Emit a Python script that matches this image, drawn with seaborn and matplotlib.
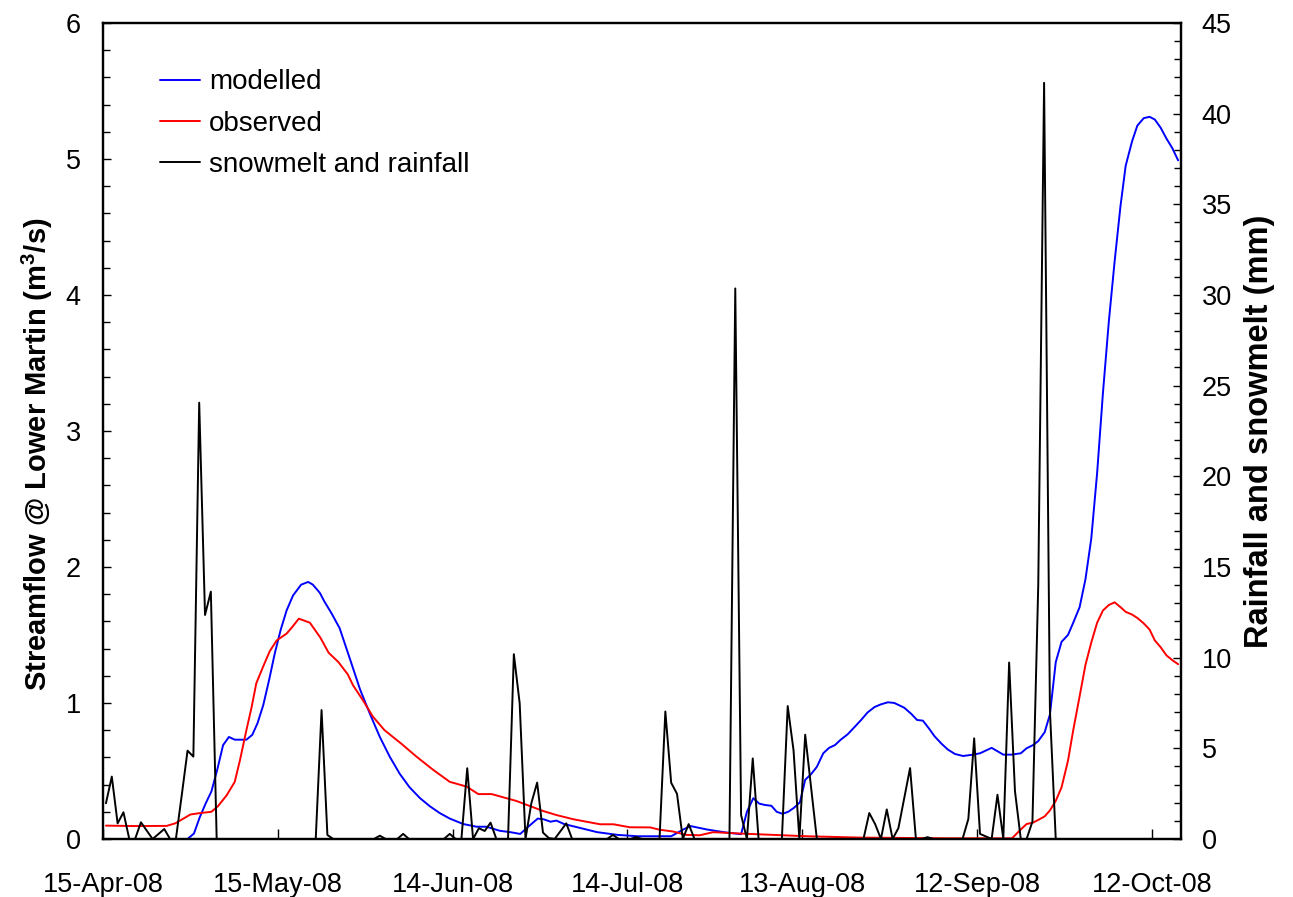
import numpy as np
import pandas as pd
import matplotlib
matplotlib.use("Agg")
import matplotlib.pyplot as plt
import matplotlib.dates as mdates
from matplotlib.ticker import MultipleLocator
import seaborn as sns

# ---------------- data ----------------
start_date = "2008-04-15"

# modelled streamflow (m3/s): day offset from 15-Apr-08, value
model_day = [0.5, 14.5, 15.6, 16.6, 17.6, 18.6, 19.6, 20.6, 21.6, 22.6, 24.6, 25.6, 26.5, 27.5,
             28.5, 29.5, 30.5, 31.5, 32.6, 34.0, 35.2, 36.0, 37.2, 38.0, 39.2, 40.6, 42.4, 44.1,
             45.8, 47.5, 49.2, 50.9, 52.6, 54.4, 56.1, 57.8, 59.5, 61.8, 64.1, 65.8, 68.1, 69.9,
             71.6, 72.7, 74.6, 75.6, 76.8, 77.8, 79.1, 81.4, 84.8, 88.3, 91.7, 97.5, 99.6, 100.8,
             103.6, 106.5, 109.5, 110.5, 111.6, 112.6, 113.6, 114.7, 115.6, 116.6, 117.6, 118.6,
             119.6, 120.5, 121.5, 122.5, 123.6, 124.6, 125.6, 126.6, 127.8, 128.9, 130.1, 131.2,
             132.4, 133.5, 134.7, 135.8, 137.5, 138.7, 139.7, 140.7, 141.7, 142.7, 143.9, 145.0,
             146.2, 147.6, 149.3, 150.5, 152.5, 154.5, 155.9, 157.5, 158.5, 159.6, 160.5, 161.6,
             162.5, 163.5, 164.5, 165.6, 166.5, 167.6, 168.6, 169.6, 170.6, 171.6, 172.6, 173.6,
             174.6, 175.5, 176.6, 177.5, 178.6, 179.6, 180.5, 181.5, 182.5, 183.5, 184.5]
modelled = [0.0, 0.0, 0.04, 0.16, 0.26, 0.35, 0.51, 0.69, 0.75, 0.73, 0.73, 0.765, 0.85, 0.985,
            1.17, 1.37, 1.54, 1.68, 1.79, 1.87, 1.89, 1.87, 1.81, 1.745, 1.66, 1.55, 1.32, 1.10,
            0.92, 0.75, 0.605, 0.48, 0.38, 0.30, 0.24, 0.19, 0.15, 0.11, 0.09, 0.09, 0.06, 0.05,
            0.037, 0.08, 0.15, 0.145, 0.127, 0.135, 0.11, 0.086, 0.05, 0.03, 0.02, 0.02, 0.07, 0.095,
            0.07, 0.05, 0.035, 0.20, 0.30, 0.26, 0.25, 0.244, 0.20, 0.185, 0.20, 0.23,
            0.27, 0.435, 0.476, 0.53, 0.63, 0.67, 0.69, 0.73, 0.77, 0.82, 0.875, 0.93,
            0.97, 0.99, 1.005, 1.0, 0.965, 0.92, 0.875, 0.87, 0.815, 0.755, 0.70, 0.657,
            0.625, 0.61, 0.62, 0.63, 0.67, 0.62, 0.62, 0.63, 0.667, 0.69, 0.72, 0.785,
            0.915, 1.30, 1.45, 1.50, 1.59, 1.705, 1.91, 2.21, 2.69, 3.28, 3.80, 4.245,
            4.65, 4.95, 5.13, 5.245, 5.30, 5.31, 5.29, 5.23, 5.15, 5.08, 4.99]

# observed streamflow (m3/s)
obs_day = [0.5, 5.2, 10.9, 12.4, 13.8, 15.0, 16.6, 18.6, 19.7, 21.2, 22.6, 23.5, 24.6, 25.5,
           26.3, 27.5, 28.6, 29.8, 31.5, 32.5, 33.6, 35.5, 37.3, 38.7, 40.4, 42.0, 42.9, 44.6,
           46.3, 48.3, 51.2, 53.8, 56.6, 59.5, 62.4, 64.4, 66.7, 69.2, 70.9, 73.2, 75.5, 77.8,
           80.7, 85.3, 87.6, 90.4, 93.9, 95.5, 97.8, 100.1, 102.4, 104.7, 109.3, 115.0, 120.8,
           130.0, 145.0, 156.0, 157.5, 158.5, 159.6, 160.5, 161.6, 162.5, 163.5, 164.5, 165.6,
           166.5, 167.6, 168.6, 169.6, 170.6, 171.6, 172.6, 173.6, 174.6, 175.5, 176.6, 177.5,
           178.6, 179.6, 180.5, 181.5, 182.5, 183.5, 184.5]
observed = [0.098, 0.095, 0.096, 0.115, 0.15, 0.18, 0.19, 0.20, 0.24, 0.32, 0.42, 0.58, 0.80, 0.97,
            1.145, 1.27, 1.38, 1.46, 1.51, 1.56, 1.62, 1.59, 1.48, 1.37, 1.30, 1.21, 1.13, 1.02,
            0.90, 0.80, 0.70, 0.605, 0.51, 0.42, 0.385, 0.33, 0.33, 0.30, 0.28, 0.243, 0.206, 0.176,
            0.145, 0.108, 0.108, 0.086, 0.085, 0.068, 0.055, 0.03, 0.027, 0.05, 0.04, 0.03, 0.02,
            0.01, 0.005, 0.005, 0.07, 0.11, 0.12, 0.14, 0.166, 0.21, 0.28, 0.38, 0.575,
            0.80, 1.05, 1.28, 1.445, 1.59, 1.68, 1.72, 1.74, 1.705, 1.67, 1.65, 1.625,
            1.585, 1.54, 1.46, 1.41, 1.35, 1.315, 1.285]

# daily snowmelt and rainfall (mm), 15-Apr-08 .. 16-Oct-08
rain_nonzero = {0: 1.97, 1: 3.44, 2: 0.86, 3: 1.47, 6: 0.92, 7: 0.46, 9: 0.27, 10: 0.55,
                13: 2.4, 14: 4.87, 15: 4.54, 16: 24.06, 17: 12.35, 18: 13.64, 37: 7.11, 38: 0.22,
                47: 0.18, 51: 0.28, 59: 0.28, 62: 3.9, 64: 0.59, 65: 0.44, 66: 0.9,
                70: 10.19, 71: 7.48, 73: 1.97, 74: 3.11, 75: 0.35, 76: 0.05, 78: 0.43, 79: 0.86,
                87: 0.22, 91: 0.1, 96: 7.03, 97: 3.1, 98: 2.49, 100: 0.82,
                108: 30.36, 109: 1.32, 111: 4.44, 117: 7.33, 118: 4.89, 120: 5.75, 121: 2.87,
                131: 1.43, 132: 0.82, 134: 1.63, 136: 0.6, 137: 2.25, 138: 3.91, 141: 0.1,
                148: 1.1, 149: 5.55, 150: 0.28, 151: 0.14, 153: 2.44, 155: 9.73, 156: 2.64,
                159: 0.96, 160: 14.04, 161: 41.7, 162: 7.09}
n_days = 185
rainfall = [rain_nonzero.get(d, 0.0) for d in range(n_days)]

tick_labels_dates = ["2008-04-15", "2008-05-15", "2008-06-14", "2008-07-14",
                     "2008-08-13", "2008-09-12", "2008-10-12"]

# ---------------- build frames ----------------
t0 = pd.Timestamp(start_date)
df_mod = pd.DataFrame({"date": t0 + pd.to_timedelta(model_day, unit="D"), "flow": modelled})
df_obs = pd.DataFrame({"date": t0 + pd.to_timedelta(obs_day, unit="D"), "flow": observed})
df_rain = pd.DataFrame({"date": t0 + pd.to_timedelta(np.arange(n_days) + 0.5, unit="D"),
                        "rain": rainfall})

# ---------------- style ----------------
sns.set_style("ticks")
plt.rcParams["font.family"] = ["Liberation Sans", "DejaVu Sans"]
plt.rcParams["mathtext.fontset"] = "custom"
plt.rcParams["mathtext.rm"] = "Liberation Sans"
plt.rcParams["mathtext.bf"] = "Liberation Sans:bold"
for k in ["text.color", "axes.labelcolor", "xtick.color", "ytick.color", "axes.edgecolor"]:
    plt.rcParams[k] = "black"

fig = plt.figure(figsize=(12.93, 8.97), dpi=100)
ax = fig.add_axes([0.0797, 0.0647, 0.8337, 0.9097])
ax2 = ax.twinx()

lw = 1.4
sns.lineplot(data=df_mod, x="date", y="flow", ax=ax, color="#0000ff", lw=lw,
             label="modelled", estimator=None, legend=False)
sns.lineplot(data=df_obs, x="date", y="flow", ax=ax, color="#ff0000", lw=lw,
             label="observed", estimator=None, legend=False)
sns.lineplot(data=df_rain, x="date", y="rain", ax=ax2, color="black", lw=lw,
             label="snowmelt and rainfall", estimator=None, legend=False)

ax.set_xlim(t0, t0 + pd.Timedelta(days=185))
ax.set_ylim(0, 6)
ax2.set_ylim(0, 45)

ax.set_xticks(pd.to_datetime(tick_labels_dates))
ax.xaxis.set_major_formatter(mdates.DateFormatter("%d-%b-%y"))
ax.yaxis.set_major_locator(MultipleLocator(1))
ax.yaxis.set_minor_locator(MultipleLocator(0.2))
ax2.yaxis.set_major_locator(MultipleLocator(5))
ax2.yaxis.set_minor_locator(MultipleLocator(1))

tick_fs = 19.5
ax.tick_params(axis="x", which="major", direction="in", length=7, width=1.0,
               labelsize=tick_fs, pad=24, top=False)
ax.tick_params(axis="y", which="major", direction="in", length=6, width=1.0,
               labelsize=tick_fs, pad=16, right=False)
ax.tick_params(axis="y", which="minor", direction="in", length=5, width=1.0, right=False)
ax2.tick_params(axis="y", which="major", direction="in", length=6, width=1.0,
                labelsize=tick_fs, pad=15)
ax2.tick_params(axis="y", which="minor", direction="in", length=5, width=1.0)

for a in (ax, ax2):
    for s in a.spines.values():
        s.set_linewidth(1.6)
        s.set_color("black")
        s.set_visible(True)

ax.set_xlabel("")
ax.set_ylabel(r"Streamflow @ Lower Martin (m$^{\mathbf{3}}$/s)", fontsize=21, fontweight="bold")
ax2.set_ylabel("Rainfall and snowmelt (mm)", fontsize=23.5, fontweight="bold", rotation=90)
ax.yaxis.set_label_coords(-0.045, 0.472)
ax2.yaxis.set_label_coords(1.058, 0.5)

h1, l1 = ax.get_legend_handles_labels()
h2, l2 = ax2.get_legend_handles_labels()
leg = ax2.legend(h1 + h2, l1 + l2, loc="upper left", bbox_to_anchor=(0.053, 0.943),
                 frameon=False, fontsize=20, handlelength=1.45, handletextpad=0.3,
                 labelspacing=0.55, borderpad=0, borderaxespad=0)

fig.savefig("out.png", dpi=100)
